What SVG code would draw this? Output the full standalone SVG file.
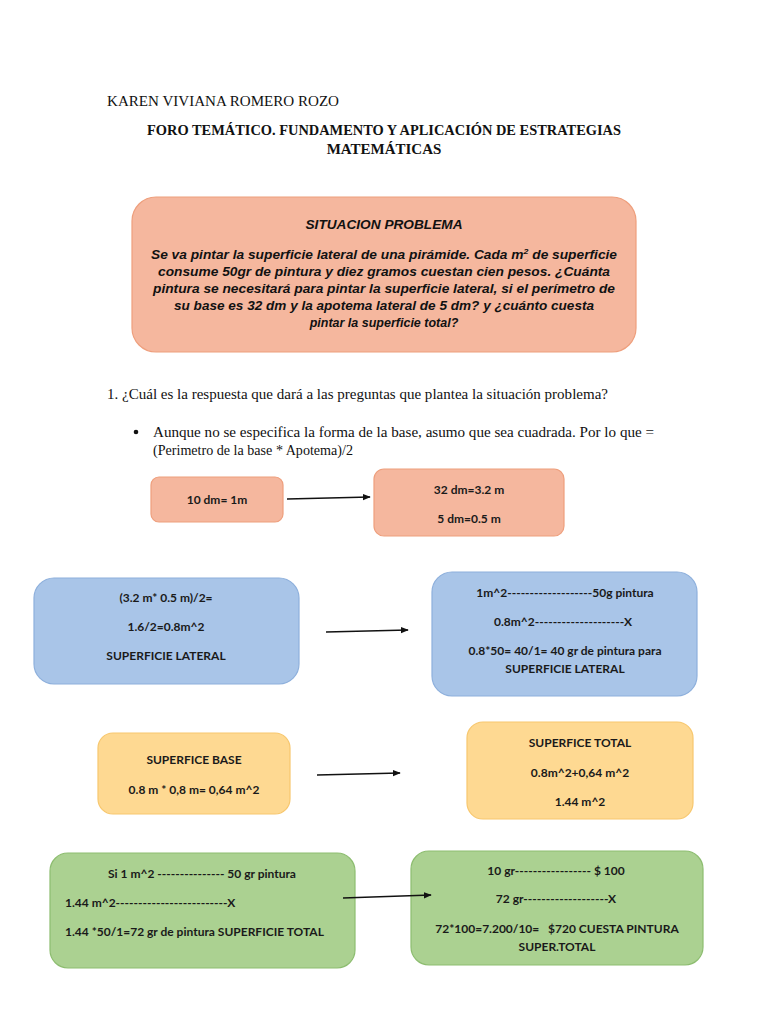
<svg xmlns="http://www.w3.org/2000/svg" width="768" height="1024" viewBox="0 0 768 1024">
<style>
.serif{font-family:"Liberation Serif","Times New Roman",serif;fill:#111;}
.box{font-family:Lato,"Liberation Sans",sans-serif;font-size:12px;font-weight:bold;fill:#1a1a1a;}
.sit{font-family:"Liberation Sans",Arial,sans-serif;font-size:12.5px;font-weight:bold;font-style:italic;fill:#111;text-anchor:middle;}
.salmon{fill:#f5b79e;stroke:#ee9f7d;stroke-width:1.2;}
.blue{fill:#a9c5e8;stroke:#8eb0dc;stroke-width:1.2;}
.yellow{fill:#fed992;stroke:#f7c76e;stroke-width:1.2;}
.green{fill:#abd191;stroke:#8dbd70;stroke-width:1.2;}
.conn{stroke:#111;stroke-width:1.6;fill:none;marker-end:url(#ah);}
.mid{text-anchor:middle;}
</style>
<defs>
<marker id="ah" viewBox="0 0 10 10" refX="9" refY="5" markerWidth="5" markerHeight="5" orient="auto"><path d="M0,1 L10,5 L0,9 z" fill="#111"/></marker>
</defs>
<rect width="768" height="1024" fill="#fff"/>
<g id="header">
<text class="serif" x="107" y="106" font-size="15" textLength="232" lengthAdjust="spacingAndGlyphs">KAREN VIVIANA ROMERO ROZO</text>
<text x="384" y="135" font-family="'Liberation Serif','Times New Roman',serif" font-size="15" font-weight="bold" fill="#111" text-anchor="middle" textLength="474" lengthAdjust="spacingAndGlyphs">FORO TEMÁTICO. FUNDAMENTO Y APLICACIÓN DE ESTRATEGIAS</text>
<text x="384" y="154" font-family="'Liberation Serif','Times New Roman',serif" font-size="15" font-weight="bold" fill="#111" text-anchor="middle">MATEMÁTICAS</text>
</g>
<g id="situacion">
<rect class="salmon" x="132" y="197" width="504" height="155" rx="24"/>
<text class="sit" x="384" y="229" font-size="14" textLength="157" lengthAdjust="spacingAndGlyphs">SITUACION PROBLEMA</text>
<text class="sit" x="384" y="259" textLength="466" lengthAdjust="spacingAndGlyphs">Se va pintar la superficie lateral de una pirámide. Cada m<tspan font-size="8" dy="-5">2</tspan><tspan dy="5"> de superficie</tspan></text>
<text class="sit" x="384" y="276" textLength="452" lengthAdjust="spacingAndGlyphs">consume 50gr de pintura y diez gramos cuestan cien pesos. ¿Cuánta</text>
<text class="sit" x="384" y="293" textLength="462" lengthAdjust="spacingAndGlyphs">pintura se necesitará para pintar la superficie lateral, si el perímetro de</text>
<text class="sit" x="384" y="310" textLength="420" lengthAdjust="spacingAndGlyphs">su base es 32 dm y la apotema lateral de 5 dm? y ¿cuánto cuesta</text>
<text class="sit" x="384" y="327">pintar la superficie total?</text>
</g>
<g id="question">
<text class="serif" x="107" y="399" font-size="14" textLength="501" lengthAdjust="spacingAndGlyphs">1. ¿Cuál es la respuesta que dará a las preguntas que plantea la situación problema?</text>
<circle cx="136" cy="432" r="2.3" fill="#111"/>
<text class="serif" x="153" y="437" font-size="14" textLength="501" lengthAdjust="spacingAndGlyphs">Aunque no se especifica la forma de la base, asumo que sea cuadrada. Por lo que =</text>
<text class="serif" x="153" y="455" font-size="14" textLength="200" lengthAdjust="spacingAndGlyphs">(Perimetro de la base * Apotema)/2</text>
</g>
<g id="n10dm">
<rect class="salmon" x="151" y="477" width="132" height="45" rx="8"/>
<text class="box mid" x="217" y="504">10 dm= 1m</text>
</g>
<g id="n32dm">
<rect class="salmon" x="374" y="469" width="190" height="67" rx="10"/>
<text class="box mid" x="469" y="494">32 dm=3.2 m</text>
<text class="box mid" x="469" y="523">5 dm=0.5 m</text>
</g>
<g id="lateral">
<rect class="blue" x="34" y="578" width="265" height="106" rx="20"/>
<text class="box mid" x="166" y="602">(3.2 m* 0.5 m)/2=</text>
<text class="box mid" x="166" y="631">1.6/2=0.8m^2</text>
<text class="box mid" x="166" y="660">SUPERFICIE LATERAL</text>
</g>
<g id="pinturaLateral">
<rect class="blue" x="432" y="572" width="265" height="124" rx="20"/>
<text class="box mid" x="565" y="597">1m^2-------------------50g pintura</text>
<text class="box mid" x="563" y="626">0.8m^2--------------------X</text>
<text class="box mid" x="565" y="655">0.8*50= 40/1= 40 gr de pintura para</text>
<text class="box mid" x="565" y="673">SUPERFICIE LATERAL</text>
</g>
<g id="base">
<rect class="yellow" x="98" y="733" width="192" height="81" rx="15"/>
<text class="box mid" x="194" y="764">SUPERFICE BASE</text>
<text class="box mid" x="194" y="794">0.8 m * 0,8 m= 0,64 m^2</text>
</g>
<g id="total">
<rect class="yellow" x="467" y="722" width="226" height="97" rx="16"/>
<text class="box mid" x="580" y="747">SUPERFICE TOTAL</text>
<text class="box mid" x="580" y="777">0.8m^2+0,64 m^2</text>
<text class="box mid" x="580" y="806">1.44 m^2</text>
</g>
<g id="pinturaTotal">
<rect class="green" x="50" y="853" width="305" height="115" rx="18"/>
<text class="box mid" x="202" y="878">Si 1 m^2 --------------- 50 gr pintura</text>
<text class="box" x="65" y="907">1.44 m^2-------------------------X</text>
<text class="box" x="65" y="936">1.44 *50/1=72 gr de pintura SUPERFICIE TOTAL</text>
</g>
<g id="costo">
<rect class="green" x="411" y="851" width="292" height="114" rx="18"/>
<text class="box mid" x="556" y="875">10 gr----------------- $ 100</text>
<text class="box mid" x="556" y="903">72 gr-------------------X</text>
<text class="box mid" x="557" y="933" xml:space="preserve">72*100=7.200/10=   $720 CUESTA PINTURA</text>
<text class="box mid" x="557" y="951">SUPER.TOTAL</text>
</g>
<g id="connectors">
<line class="conn" x1="287" y1="499" x2="370" y2="497"/>
<line class="conn" x1="326" y1="632" x2="408" y2="630"/>
<line class="conn" x1="317" y1="775" x2="400" y2="773"/>
<line class="conn" x1="343" y1="898" x2="431" y2="895"/>
</g>
</svg>
